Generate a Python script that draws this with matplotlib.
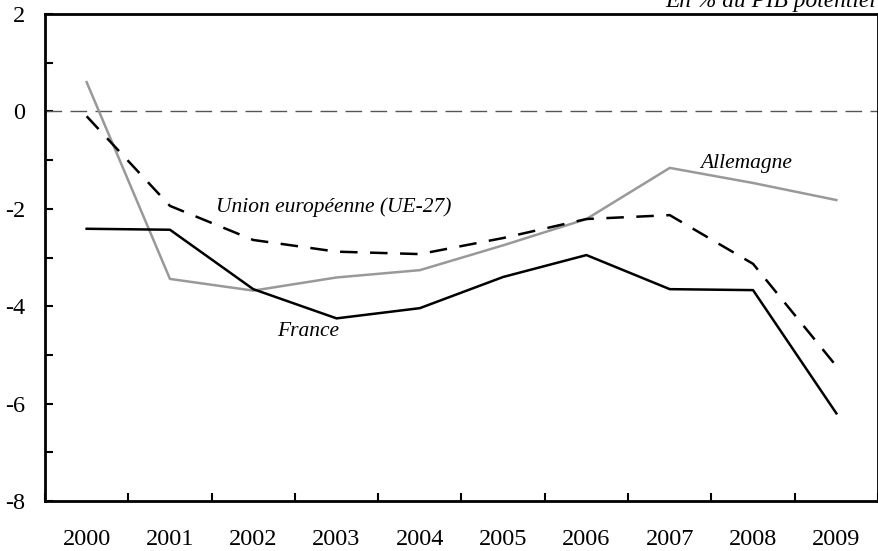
import matplotlib.pyplot as plt
import numpy as np

plt.rcParams["font.family"] = ["Liberation Serif", "DejaVu Serif"]
plt.rcParams["axes.unicode_minus"] = False

years = ["2000", "2001", "2002", "2003", "2004", "2005", "2006", "2007", "2008", "2009"]
allemagne = [0.60, -3.44, -3.68, -3.41, -3.26, -2.75, -2.21, -1.16, -1.47, -1.82]
france = [-2.41, -2.43, -3.65, -4.25, -4.04, -3.40, -2.95, -3.65, -3.67, -6.20]
ue27 = [-0.10, -1.94, -2.64, -2.88, -2.93, -2.60, -2.21, -2.13, -3.13, -5.23]

fig = plt.figure(figsize=(8.79, 5.51), dpi=100)
ax = fig.add_axes([45 / 879, 1 - 501 / 551, 833 / 879, 487 / 551])

x = np.arange(len(years))
ax.axhline(0, color="#555555", lw=1, dashes=(12, 6))
ax.plot(x, allemagne, color="#999999", lw=1.8)
ax.plot(x, ue27, color="black", lw=1.8, dashes=(7, 5))
ax.plot(x, france, color="black", lw=1.8)

ax.set_xlim(-0.5, len(years) - 0.5)
ax.set_ylim(-8, 2)
ax.set_xticks(np.arange(len(years) + 1) - 0.5)
ax.set_xticklabels([])
ax.set_xticks(x, minor=True)
ax.set_xticklabels(years, minor=True)
ax.tick_params(axis="x", which="major", direction="in", length=6, width=1.5)
ax.tick_params(axis="x", which="minor", length=0, pad=20, labelsize=17.5)
ax.set_yticks(np.arange(-8, 3, 2))
ax.set_yticks(np.arange(-7, 2, 2), minor=True)
ax.tick_params(axis="y", which="both", direction="in", length=6, width=1.5, labelsize=17.5, pad=14)
for s in ax.spines.values():
    s.set_linewidth(2)

ax.text(2.97, -1.97, "Union européenne (UE-27)", style="italic", fontsize=15.5, ha="center", va="center")
ax.text(2.66, -4.51, "France", style="italic", fontsize=15.5, ha="center", va="center")
ax.text(7.92, -1.06, "Allemagne", style="italic", fontsize=15.5, ha="center", va="center")
fig.text(665 / 879, 1 - 7 / 551, "En % du PIB potentiel", style="italic", fontsize=16.8,
         ha="left", va="baseline")

fig.savefig("out.png", dpi=100)
